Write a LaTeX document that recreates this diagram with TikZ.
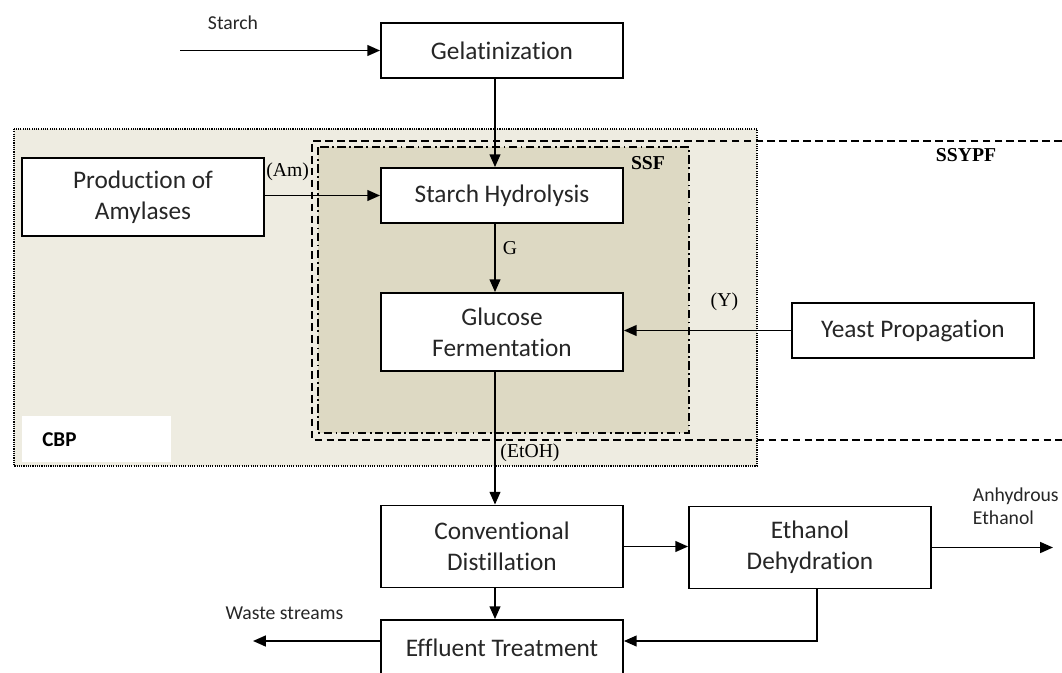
\documentclass[tikz,border=0pt]{standalone}
\usepackage{fontspec}
\setmainfont{Carlito}[Ligatures=NoCommon]
\newfontfamily\tagfont{Liberation Serif}
\usetikzlibrary{arrows.meta, positioning}
\definecolor{cbpfill}{HTML}{EEECE1}
\definecolor{ssffill}{HTML}{DDD9C3}

\begin{document}
\begin{tikzpicture}[
  unit/.style={draw, line width=1.3pt, fill=white, minimum width=6.05cm,
               align=center, text=black!85, font=\fontsize{18}{22}\selectfont},
  arr/.style={-{Triangle[length=3.2mm, width=2.7mm]}, line width=1.3pt},
  tag/.style={font=\tagfont\fontsize{14}{16}\selectfont},
  note/.style={font=\fontsize{14}{16.5}\selectfont, text=black!85, align=left}
]
  \useasboundingbox (0,0) rectangle (26.55,-16.825);

  % process regions
  \draw[line width=0.8pt, dash pattern=on 0.8pt off 0.8pt, fill=cbpfill]
    (0.35,-3.225) rectangle (18.925,-11.65);
  \draw[line width=1.1pt, fill=ssffill, dash pattern=on 6pt off 2.5pt on 1.2pt off 2.5pt]
    (7.95,-3.675) rectangle (17.225,-10.825);
  \draw[line width=1.1pt, dash pattern=on 5.5pt off 3pt]
    (26.55,-3.525) -- (7.8,-3.525) -- (7.8,-11.0) -- (26.55,-11.0);

  \node[fill=white, anchor=north west, minimum width=3.725cm, minimum height=1.15cm,
        inner xsep=0.5cm, text width=2.725cm, align=left,
        font=\fontsize{15}{18}\selectfont\bfseries] (cbp) at (0.55,-10.4) {CBP};
  \node[tag] (ssf) at (16.2,-4.075) {\textbf{SSF}};
  \node[tag] (ssypf) at (24.15,-3.875) {\textbf{SSYPF}};

  % units
  \node[unit, minimum height=1.375cm] (gel) at (12.55,-1.2625) {Gelatinization};
  \node[unit, minimum height=1.95cm] (prod) at (3.575,-4.925) {Production of\\Amylases};
  \node[unit, minimum height=1.375cm] (hyd) at (12.55,-4.8875) {Starch Hydrolysis};
  \node[unit, minimum height=1.95cm] (ferm) at (12.55,-8.3) {Glucose\\Fermentation};
  \node[unit, minimum height=1.375cm] (yeast) at (22.825,-8.2625) {Yeast Propagation};
  \node[unit, minimum height=2.05cm] (dist) at (12.55,-13.6625) {Conventional\\Distillation};
  \node[unit, minimum height=2.05cm] (dehyd) at (20.25,-13.6875) {Ethanol\\Dehydration};
  \node[unit, minimum height=1.4cm] (efflu) at (12.55,-16.2) {Effluent Treatment};

  \coordinate (feed) at (4.5,-1.2625);
  \coordinate (product) at (26.325,-13.6875);
  \coordinate (drain) at (6.325,-16.025);

  % streams
  \draw[arr] (feed) -- (gel);
  \draw[arr] ([xshift=-1.75mm]gel.south) -- ([xshift=-1.75mm]hyd.north);
  \draw[arr] (prod.east |- hyd.west) -- (hyd.west);
  \draw[arr] ([xshift=-1.75mm]hyd.south) -- ([xshift=-1.75mm]ferm.north);
  \draw[arr] (yeast.west) -- (yeast.west -| ferm.east);
  \draw[arr] ([xshift=-1.75mm]ferm.south) -- ([xshift=-1.75mm]dist.north);
  \draw[arr] (dist.east) -- (dist.east -| dehyd.west);
  \draw[arr] (dehyd.east) -- (product);
  \draw[arr] ([xshift=-1.75mm]dist.south) -- ([xshift=-1.75mm]efflu.north);
  \draw[arr] ([xshift=1.75mm]dehyd.south) |- ([yshift=1.75mm]efflu.east);
  \draw[arr] ([yshift=1.75mm]efflu.west) -- (drain);

  % stream labels
  \node[note] (starch) at (5.825,-0.575) {Starch};
  \node[tag] (am) at (7.19,-4.3) {(Am)};
  \node[tag] (g) at (12.75,-6.2) {G};
  \node[tag] (y) at (18.11,-7.55) {(Y)};
  \node[tag] (etoh) at (13.25,-11.325) {(EtOH)};
  \node[note, anchor=west] (anhyd) at (24.2,-12.66) {Anhydrous\\Ethanol};
  \node[note] (waste) at (7.11,-15.325) {Waste streams};
\end{tikzpicture}
\end{document}
